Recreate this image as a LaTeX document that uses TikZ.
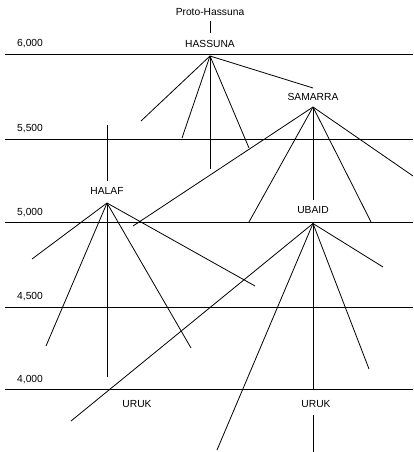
\documentclass[tikz,border=0pt]{standalone}
\usepackage{fontspec}
\setmainfont{Liberation Sans}
\begin{document}
\begin{tikzpicture}[x=1bp,y=-1bp,
  line/.style={line width=0.8bp,black},
  culture/.style={font=\fontsize{10.3}{12}\selectfont,inner sep=0pt},
  datelabel/.style={font=\fontsize{10.3}{12}\selectfont,inner sep=0pt,anchor=west}]
\useasboundingbox (0,0) rectangle (413,452);

% time scale
\foreach \yy/\lab/\ty in {54/{6,000}/44, 139/{5,500}/129, 222/{5,000}/213, 307/{4,500}/297, 389/{4,000}/380}{
  \draw[line] (5,\yy) -- (413,\yy);
  \node[datelabel] at (17,\ty) {\lab};
}

% culture names
\node[culture] (proto) at (210,12) {Proto-Hassuna};
\node[culture] (hassunaL) at (210,44) {HASSUNA};
\node[culture] (samarraL) at (313,97) {SAMARRA};
\node[culture] (halafL) at (107,190.5) {HALAF};
\node[culture] (ubaidL) at (313,210) {UBAID};
\node[culture] (urukA) at (137,404) {URUK};
\node[culture] (urukB) at (316,404) {URUK};

% branching points
\coordinate (hassuna) at (210,56);
\coordinate (samarra) at (313,107);
\coordinate (halaf) at (107,203);
\coordinate (ubaid) at (313,223.5);

% Proto-Hassuna tick
\draw[line] (210,21) -- (210,33);

% Hassuna branches
\draw[line] (hassuna) -- (141,121);
\draw[line] (hassuna) -- (182,138);
\draw[line] (hassuna) -- (210,169);
\draw[line] (hassuna) -- (249,148);
\draw[line] (hassuna) -- (313,88);

% Samarra branches
\draw[line] (samarra) -- (133,226);
\draw[line] (samarra) -- (249,222);
\draw[line] (samarra) -- (313,200);
\draw[line] (samarra) -- (371,222);
\draw[line] (samarra) -- (413,176);

% Halaf line and branches
\draw[line] (107,125) -- (107,181.5);
\draw[line] (halaf) -- (32,259);
\draw[line] (halaf) -- (46,346);
\draw[line] (halaf) -- (107,377);
\draw[line] (halaf) -- (191,348);
\draw[line] (halaf) -- (255,286);

% Ubaid branches
\draw[line] (ubaid) -- (71,421);
\draw[line] (ubaid) -- (217,450);
\draw[line] (ubaid) -- (313,389);
\draw[line] (ubaid) -- (369,369);
\draw[line] (ubaid) -- (383,267);

% Uruk tick
\draw[line] (313,415) -- (313,452);
\end{tikzpicture}
\end{document}
